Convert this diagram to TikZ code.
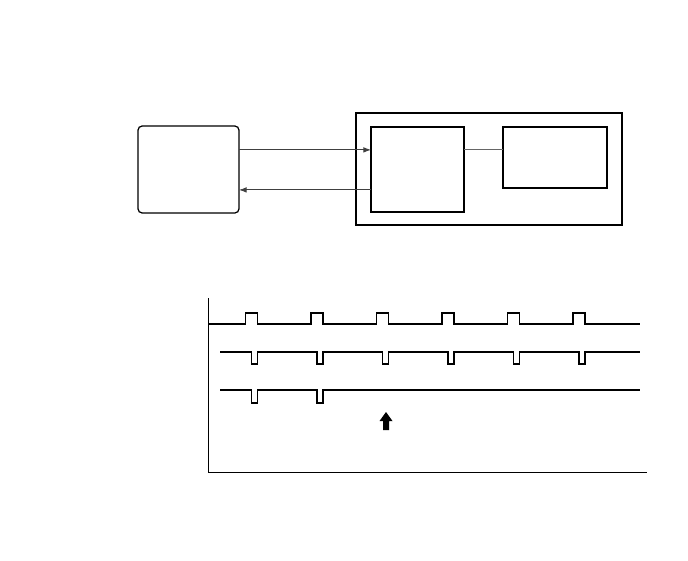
\documentclass[tikz,border=0pt]{standalone}
\usepackage{tikz}
\usetikzlibrary{arrows.meta,positioning,calc}

\begin{document}
\begin{tikzpicture}[
  x=0.025cm, y=-0.025cm,
  box/.style={draw=black, line width=0.9pt, fill=white, inner sep=0pt, outer sep=0pt},
  arr/.style={-{Latex[length=1.9mm, width=1.4mm]}, draw=black!75, line width=0.6pt},
  link/.style={draw=black!60, line width=0.6pt},
  wave/.style={line width=1.4pt, line join=miter},
  axis/.style={line width=0.7pt},
]
\useasboundingbox (0,0) rectangle (688,560);
% block diagram
\node[box, rounded corners=3pt, minimum width=2.525cm, minimum height=2.175cm] (host) at (188.5,169.5) {};
\node[box, minimum width=6.65cm, minimum height=2.8cm] (unit) at (489,169) {};
\node[box, minimum width=2.325cm, minimum height=2.125cm] (ctrl) at (417.5,169.5) {};
\node[box, minimum width=2.6cm, minimum height=1.525cm] (disp) at (555,157.5) {};
\coordinate (lk) at ([yshift=0.49cm]ctrl.east);
\draw[arr] ([yshift=0.49cm]host.east) -- ([yshift=0.49cm]ctrl.west);
\draw[arr] ([yshift=-0.51cm]ctrl.west) -- ([yshift=-0.51cm]host.east);
\draw[link] (lk) -- (lk -| disp.west);
% timing chart
\draw[axis] (208,298) -- (208,472) -- (647,472);
\draw[wave] (208,324) \foreach \i in {0,...,5} { -| ({245.5+65.5*\i},313) -| ({257.5+65.5*\i},324) } -- (640,324);
\draw[wave] (220,352) \foreach \i in {0,...,5} { -| ({251.5+65.5*\i},364) -| ({257.5+65.5*\i},352) } -- (640,352);
\draw[wave] (220,390) \foreach \i in {0,1} { -| ({251.5+65.5*\i},403) -| ({257.5+65.5*\i},390) } -- (640,390);
\fill (386,412) -- (392.5,421) -- (389,421) -- (389,430) -- (383,430) -- (383,421) -- (379.5,421) -- cycle;
\end{tikzpicture}
\end{document}
